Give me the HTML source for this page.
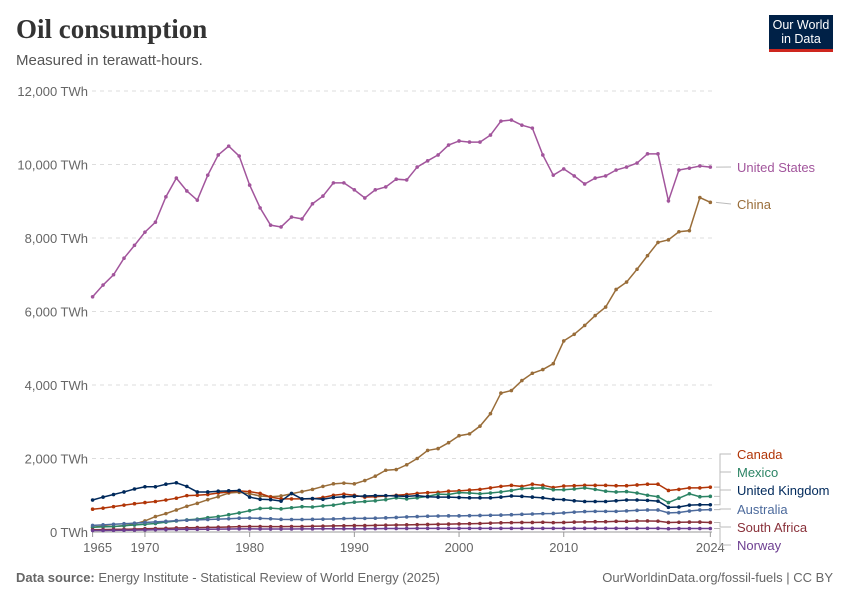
<!DOCTYPE html>
<html><head><meta charset="utf-8"><style>
body{margin:0;background:#fff;font-family:"Liberation Sans",sans-serif}
#w{position:relative;width:850px;height:600px}
.t{position:absolute;margin:0}
</style></head><body><div id="w">
<div class="t" style="left:16px;top:14px;font-family:'Liberation Serif',serif;font-size:27px;font-weight:bold;color:#333">Oil consumption</div>
<div class="t" style="left:16px;top:52px;font-size:15px;color:#555">Measured in terawatt-hours.</div>
<div class="t" style="left:769px;top:15px;width:64px;height:37px;background:#002147;border-bottom:3px solid #ce261e;color:#fff;font-size:12.5px;line-height:14px;text-align:center;padding-top:3px;box-sizing:border-box">Our World<br>in Data</div>
<div class="t" style="left:16px;top:570px;font-size:13px;color:#666"><b>Data source:</b> Energy Institute - Statistical Review of World Energy (2025)</div>
<div class="t" style="right:17px;top:570px;font-size:13px;color:#666">OurWorldinData.org/fossil-fuels | CC BY</div>
<svg id="s" width="850" height="600" style="position:absolute;left:0;top:0"></svg>
</div>
<script>
const years=[];for(let y=1965;y<=2024;y++)years.push(y);
const yTicks=[0,2000,4000,6000,8000,10000,12000];
const yTickLabels=["0 TWh","2,000 TWh","4,000 TWh","6,000 TWh","8,000 TWh","10,000 TWh","12,000 TWh"];
const xTicks=[1965,1970,1980,1990,2000,2010,2024];
const unitedStates=[6400,6720,7000,7450,7800,8160,8430,9120,9630,9280,9030,9710,10260,10500,10230,9440,8820,8350,8300,8570,8520,8930,9140,9500,9500,9310,9090,9310,9390,9600,9580,9930,10100,10260,10530,10640,10610,10610,10800,11180,11210,11070,10990,10260,9710,9880,9690,9470,9630,9690,9850,9930,10040,10290,10290,9010,9850,9900,9960,9930];
const china=[130,160,150,170,220,300,420,500,600,700,780,880,960,1060,1080,1040,980,960,980,1040,1100,1160,1240,1310,1330,1310,1400,1520,1680,1700,1830,2000,2220,2270,2430,2620,2670,2880,3220,3780,3850,4120,4320,4420,4580,5200,5380,5620,5890,6120,6600,6800,7150,7520,7880,7950,8170,8200,9100,8970];
const unitedKingdom=[870,950,1020,1090,1170,1230,1230,1300,1340,1240,1090,1090,1110,1120,1130,950,890,880,840,1050,900,910,890,940,960,970,980,990,990,980,970,990,960,950,950,940,930,930,930,950,980,970,950,930,890,880,850,830,830,830,850,870,870,860,840,670,680,730,740,740];
const canada=[620,650,690,730,770,800,830,870,920,990,1000,1020,1060,1090,1120,1100,1050,950,900,900,900,900,940,1000,1030,1000,950,960,980,1000,1020,1050,1070,1080,1110,1120,1140,1160,1200,1240,1270,1240,1300,1270,1210,1250,1260,1270,1270,1270,1260,1260,1280,1300,1300,1130,1160,1200,1200,1220];
const mexico=[130,140,150,170,190,210,230,270,300,330,350,390,420,470,520,580,640,650,630,660,690,680,710,730,780,810,830,850,880,930,900,930,970,1030,1020,1070,1060,1040,1060,1090,1130,1180,1190,1200,1150,1150,1170,1200,1160,1110,1090,1100,1060,1000,960,800,920,1040,960,970];
const australia=[180,195,210,225,240,260,275,290,310,320,330,340,350,360,375,380,370,360,345,340,340,345,350,355,365,370,370,375,385,395,410,420,430,435,440,440,445,450,455,460,470,480,490,500,505,520,540,555,560,560,560,575,590,600,600,520,530,570,600,610];
const southAfrica=[60,65,70,75,80,90,95,100,110,115,120,125,130,135,145,150,150,145,145,150,150,155,160,165,170,175,175,180,185,190,195,200,205,210,215,220,225,230,240,250,255,260,260,265,255,260,270,275,280,280,290,290,300,300,295,260,265,270,270,260];
const norway=[40,42,45,48,52,56,60,64,68,70,72,75,78,80,85,85,82,80,80,82,85,86,88,88,90,90,90,92,94,95,96,98,100,100,100,100,100,100,100,100,100,100,100,100,100,100,100,100,100,100,100,100,100,100,100,90,95,95,95,95];
const series=[
 ["united-states",unitedStates,"#a2559c","United States",167],
 ["china",china,"#996d39","China",204],
 ["canada",canada,"#b13507","Canada",454],
 ["mexico",mexico,"#2c8465","Mexico",472],
 ["australia",australia,"#4c6a9c","Australia",509],
 ["south-africa",southAfrica,"#883039","South Africa",527],
 ["norway",norway,"#6d3e91","Norway",545],
 ["united-kingdom",unitedKingdom,"#00295b","United Kingdom",490]];
const X=y=>92.6+(y-1965)*10.47, Y=v=>532-v*0.03675;
const s=document.getElementById('s'),NS="http://www.w3.org/2000/svg";
function mk(t,a,p){const e=document.createElementNS(NS,t);for(const k in a)e.setAttribute(k,a[k]);(p||s).appendChild(e);return e;}
yTicks.forEach((v,i)=>{
 const l=mk('line',{x1:92,x2:712,y1:Y(v),y2:Y(v),stroke:v?'#ddd':'#999','stroke-dasharray':v?'4,4':''});
 
 
 const t=mk('text',{x:88,y:Y(v)+5,'text-anchor':'end','font-size':13,fill:'#666','font-family':'Liberation Sans'});t.textContent=yTickLabels[i];
 
 
});
xTicks.forEach(y=>{
 const l=mk('line',{x1:X(y),x2:X(y),y1:532,y2:537,stroke:'#999'});
 
 
 const t=mk('text',{x:X(y)+(y==1965?5:0),y:552,'text-anchor':'middle','font-size':13,fill:'#666','font-family':'Liberation Sans'});t.textContent=y;
 
 
});
series.forEach(([n,d,c,lab,ly])=>{
 const g=mk('g',{});
 
 
 const pl=mk('polyline',{points:d.map((v,i)=>X(years[i])+','+Y(v)).join(' '),fill:'none',stroke:c,'stroke-width':1.5},g);
 
 
 d.forEach((v,i)=>{const p=mk('circle',{cx:X(years[i]),cy:Y(v),r:1.8,fill:c},g);
  
  });
 const ey=Y(d[d.length-1]);
 if(ly>400){const k=mk('polyline',{points:`714,${ey} 720,${ey} 720,${ly} 731,${ly}`,fill:'none',stroke:'#bbb'});
  
  }
 else{const k=mk('line',{x1:716,x2:731,y1:ey,y2:ly,stroke:'#bbb'});
  
  }
 const t=mk('text',{x:737,y:ly+5,'font-size':13,fill:c,'font-family':'Liberation Sans'});t.textContent=lab;
 
 
});
</script></body></html>
